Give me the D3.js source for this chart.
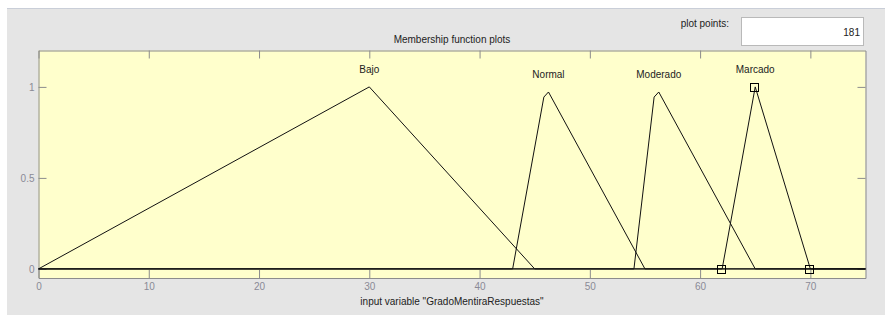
<!DOCTYPE html>
<html>
<head>
<meta charset="utf-8">
<script src="https://cdn.jsdelivr.net/npm/d3@7"></script>
<style>
html,body{margin:0;padding:0;background:#fff;}
svg{display:block;font-family:"Liberation Sans",Arial,sans-serif;}
</style>
</head>
<body>
<svg id="chart" width="885" height="315"></svg>
<script>
// ---- data ----
const mfNames = ["Bajo", "Normal", "Moderado", "Marcado"];
const bajoX = [0, 30, 45, 75];
const bajoY = [0, 1, 0, 0];
const normalX = [0, 43, 45.83, 46.25, 55, 75];
const normalY = [0, 0, 0.944, 0.972, 0, 0];
const moderadoX = [0, 54, 55.83, 56.25, 65, 75];
const moderadoY = [0, 0, 0.944, 0.972, 0, 0];
const marcadoX = [0, 62, 65, 70, 75];
const marcadoY = [0, 0, 1, 0, 0];
const selectedVertX = [62, 65, 70];
const selectedVertY = [0, 1, 0];
const xTicks = [0, 10, 20, 30, 40, 50, 60, 70];
const yTicks = [0, 0.5, 1];
const xDomain = [0, 75];
const yDomain = [-0.05, 1.2];
const titleText = "Membership function plots";
const xLabelText = 'input variable "GradoMentiraRespuestas"';
const plotPointsLabel = "plot points:";
const plotPointsValue = "181";

const mfSeries = [
  {name: mfNames[0], xs: bajoX, ys: bajoY},
  {name: mfNames[1], xs: normalX, ys: normalY},
  {name: mfNames[2], xs: moderadoX, ys: moderadoY},
  {name: mfNames[3], xs: marcadoX, ys: marcadoY}
];

// ---- layout ----
const svg = d3.select("#chart");
const L = 38.5, R = 865.5, T = 50.5, B = 278;
const x = d3.scaleLinear().domain(xDomain).range([L, R]);
const y = d3.scaleLinear().domain(yDomain).range([B, T]);

// panel background
svg.append("rect").attr("x", 7).attr("y", 9).attr("width", 878).attr("height", 306).attr("fill", "#e5e5e5");
svg.append("line").attr("x1", 7).attr("x2", 885).attr("y1", 8.5).attr("y2", 8.5).attr("stroke", "#c9ced8");

// plot points box
svg.append("text").attr("x", 729).attr("y", 26.5).attr("text-anchor", "end")
  .attr("font-size", 10).attr("fill", "#222").text(plotPointsLabel);
svg.append("rect").attr("x", 741.5).attr("y", 17.5).attr("width", 122).attr("height", 28)
  .attr("fill", "#fff").attr("stroke", "#b9b9b9");
svg.append("text").attr("x", 860).attr("y", 35.5).attr("text-anchor", "end")
  .attr("font-size", 10).attr("fill", "#222").text(plotPointsValue);

// title
svg.append("text").attr("x", (L + R) / 2).attr("y", 42.5).attr("text-anchor", "middle")
  .attr("font-size", 10).attr("fill", "#222").text(titleText);

// plot area
svg.append("rect").attr("x", L).attr("y", T).attr("width", R - L).attr("height", B - T).attr("fill", "#ffffcc");

// axes
function styleAxis(g) {
  g.selectAll("path.domain").attr("stroke", "#8c8c8c");
  g.selectAll(".tick line").attr("stroke", "#8c8c8c");
  g.selectAll(".tick text").attr("fill", "#8a8a96").attr("font-size", 10)
    .attr("font-family", '"Liberation Sans",Arial,sans-serif');
}
svg.append("g").attr("transform", `translate(0,${B})`)
  .call(d3.axisBottom(x).tickValues(xTicks).tickSizeInner(-8).tickSizeOuter(0).tickPadding(5).tickFormat(d3.format("d")))
  .call(styleAxis);
svg.append("g").attr("transform", `translate(0,${T})`)
  .call(d3.axisTop(x).tickValues(xTicks).tickSizeInner(-8).tickSizeOuter(0).tickFormat(""))
  .call(styleAxis);
svg.append("g").attr("transform", `translate(${L},0)`)
  .call(d3.axisLeft(y).tickValues(yTicks).tickSizeInner(-8).tickSizeOuter(0).tickPadding(4).tickFormat(d => d === 0.5 ? "0.5" : d3.format("d")(d)))
  .call(styleAxis);
svg.append("g").attr("transform", `translate(${R},0)`)
  .call(d3.axisRight(y).tickValues(yTicks).tickSizeInner(-8).tickSizeOuter(0).tickFormat(""))
  .call(styleAxis);

// membership functions
const line = d3.line().x(d => x(d[0])).y(d => y(d[1]));
const mfG = svg.append("g");
mfSeries.forEach(s => {
  const pts = s.xs.map((v, i) => [v, s.ys[i]]);
  mfG.append("path").attr("d", line(pts)).attr("fill", "none").attr("stroke", "#111").attr("stroke-width", 1);
  const peak = pts.reduce((a, b) => (b[1] > a[1] ? b : a));
  mfG.append("text").attr("x", x(peak[0])).attr("y", y(peak[1]) - 14).attr("text-anchor", "middle")
    .attr("font-size", 10).attr("fill", "#222").text(s.name);
});

// vertex markers of the selected MF
selectedVertX.forEach((v, i) => {
  mfG.append("rect").attr("x", Math.round(x(v)) - 4.5).attr("y", Math.round(y(selectedVertY[i])) - 3.5)
    .attr("width", 8).attr("height", 8).attr("fill", "none").attr("stroke", "#000");
});

// x label
svg.append("text").attr("x", (L + R) / 2).attr("y", 304.5).attr("text-anchor", "middle")
  .attr("font-size", 10).attr("fill", "#222").text(xLabelText);
</script>
</body>
</html>
